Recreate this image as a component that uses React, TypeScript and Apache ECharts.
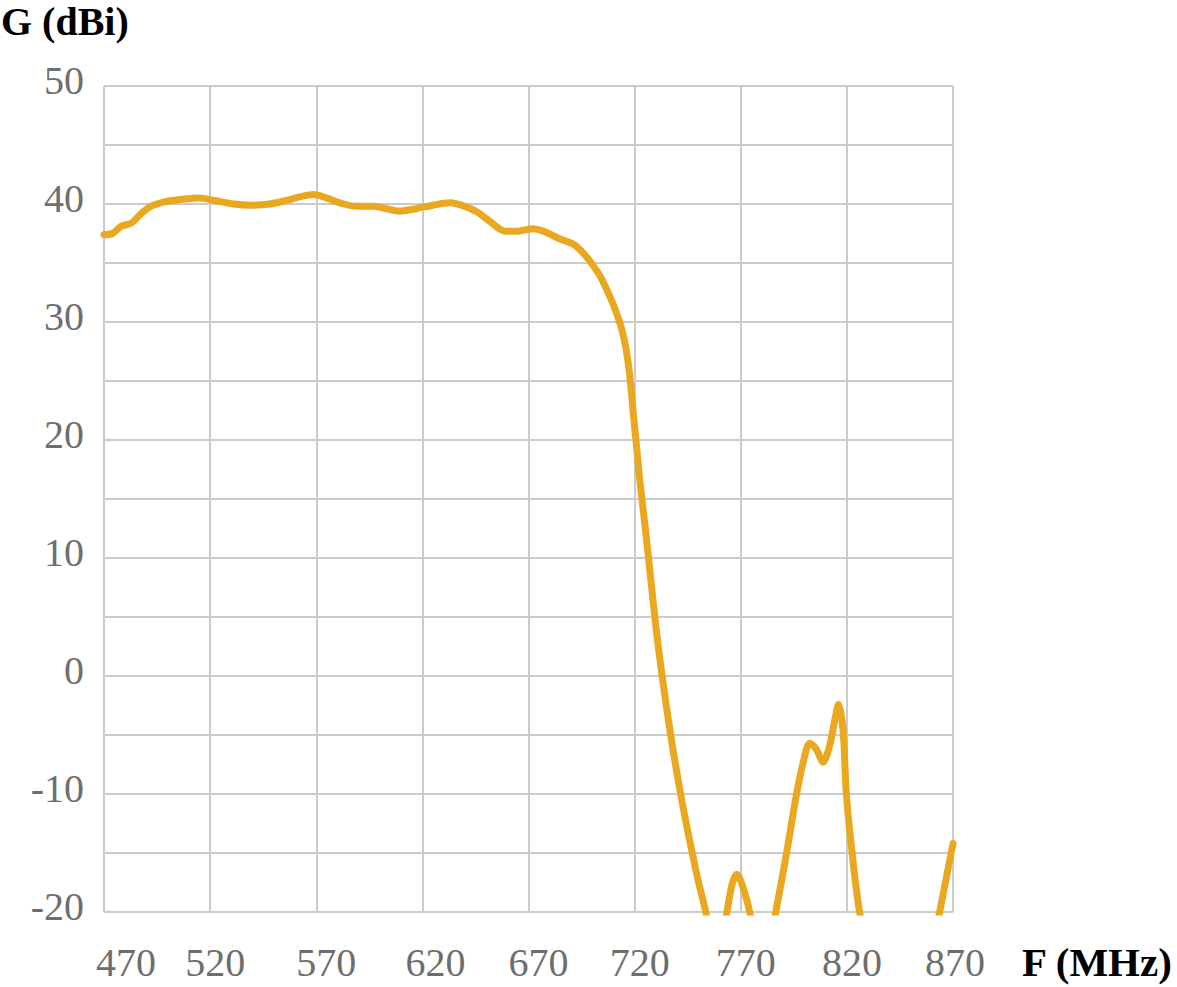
import React, { useEffect, useRef } from "react";
import * as echarts from "echarts";

// Frequency (MHz) and gain (dBi).
// Values below -20 are hidden below the plot floor (estimated).
const FREQ = [
  470, 474, 478, 483, 487, 492, 499, 507, 515, 522, 531, 539, 548, 556, 562, 569,
  575, 583, 589, 597, 603, 609, 617, 625, 633, 640, 646, 652, 659, 665, 672, 677,
  684, 691, 696, 700, 704, 708, 712, 715, 717.5, 719.5, 721, 722.6, 725, 727.5,
  730, 732.5, 735, 737.5, 740, 742.5, 745, 747.5, 750, 753.5, 758.5,
  763.5, 766, 768.2, 770.5, 774.2, 780, 786.5, 791.5, 796.2, 799.3, 802.5, 805.6,
  808.8, 811.9, 814.3, 816.1, 818.2, 819.8, 822.9, 826, 835, 845, 855, 863.7, 870,
];
const GAIN = [
  37.4, 37.5, 38.1, 38.4, 39.1, 39.8, 40.2, 40.4, 40.5, 40.3, 40.0, 39.9, 40.0, 40.3, 40.6, 40.8,
  40.5, 40.0, 39.8, 39.8, 39.6, 39.4, 39.6, 39.9, 40.1, 39.8, 39.3, 38.5, 37.7, 37.7, 37.9, 37.7,
  37.1, 36.6, 35.8, 34.9, 33.8, 32.3, 30.5, 28.6, 25.8, 22.0, 19.3, 16.3, 12.6, 8.4,
  4.2, 0.6, -2.6, -5.6, -8.3, -10.8, -13.1, -15.3, -17.4, -20, -25,
  -20, -17.6, -16.8, -17.6, -20, -26, -20, -15.1, -10.1, -7.4, -5.7, -6.2,
  -7.3, -5.9, -3.75, -2.4, -4.6, -10.1, -15.7, -20, -28, -32, -28, -20, -14.2,
];

const X_TICKS = [470, 520, 570, 620, 670, 720, 770, 820, 870];
const Y_LABELS = [-20, -10, 0, 10, 20, 30, 40, 50];

const X_TITLE = "F (MHz)";
const Y_TITLE = "G (dBi)";

// small horizontal label shifts seen in the reference (px)
const X_LABEL_SHIFT = [22, 5, 10, 13, 10, 5, 5, 5, 2];

const FONT = '"Liberation Serif", "Times New Roman", serif';
const LABEL_COLOR = "#6e6e6e";
const GRID_COLOR = "#cbcbcb";
const LINE_COLOR = "#e9a820";

export default function App() {
  const ref = useRef<HTMLDivElement>(null);

  useEffect(() => {
    if (!ref.current) return;
    const chart = echarts.init(ref.current, null, { renderer: "svg" });

    const rich: Record<string, any> = {};
    X_TICKS.forEach((_, i) => {
      rich["t" + i] = {
        fontFamily: FONT,
        fontSize: 40,
        color: LABEL_COLOR,
        padding: [0, 0, 0, X_LABEL_SHIFT[i] * 2],
      };
    });

    chart.setOption({
      animation: false,
      backgroundColor: "#ffffff",
      grid: { left: 104, right: 224, top: 86, bottom: 75, containLabel: false },
      xAxis: {
        type: "value",
        min: 470,
        max: 870,
        interval: 50,
        axisLine: { show: false },
        axisTick: { show: false },
        splitLine: { show: true, lineStyle: { color: GRID_COLOR, width: 2 } },
        axisLabel: {
          margin: 30,
          fontFamily: FONT,
          fontSize: 40,
          color: LABEL_COLOR,
          formatter: (v: number) => {
            const i = X_TICKS.indexOf(v);
            return i >= 0 ? `{t${i}|${v}}` : "";
          },
          rich,
        },
      },
      yAxis: {
        type: "value",
        min: -20,
        max: 50,
        interval: 5,
        axisLine: { show: false },
        axisTick: { show: false },
        splitLine: { show: true, lineStyle: { color: GRID_COLOR, width: 2 } },
        axisLabel: {
          margin: 20,
          fontFamily: FONT,
          fontSize: 40,
          color: LABEL_COLOR,
          formatter: (v: number) => (Y_LABELS.includes(v) ? `{y|${v}}` : ""),
          rich: {
            y: {
              fontFamily: FONT,
              fontSize: 40,
              color: LABEL_COLOR,
              padding: [0, 0, 12, 0],
            },
          },
        },
      },
      graphic: [
        {
          type: "text",
          left: 1,
          top: 1,
          style: {
            text: Y_TITLE,
            font: `bold 40px ${FONT}`,
            fill: "#000000",
          },
        },
        {
          type: "text",
          left: 1022,
          top: 941,
          style: {
            text: X_TITLE,
            font: `bold 41px ${FONT}`,
            fill: "#000000",
          },
        },
      ],
      series: [
        {
          type: "line",
          data: FREQ.map((f, i) => [f, GAIN[i]]),
          showSymbol: false,
          smooth: 0.3,
          clip: true,
          lineStyle: { color: LINE_COLOR, width: 7, cap: "round", join: "round" },
        },
      ],
    });

    return () => chart.dispose();
  }, []);

  return (
    <div
      ref={ref}
      style={{ position: "absolute", left: 0, top: 0, width: 1177, height: 987 }}
    />
  );
}
